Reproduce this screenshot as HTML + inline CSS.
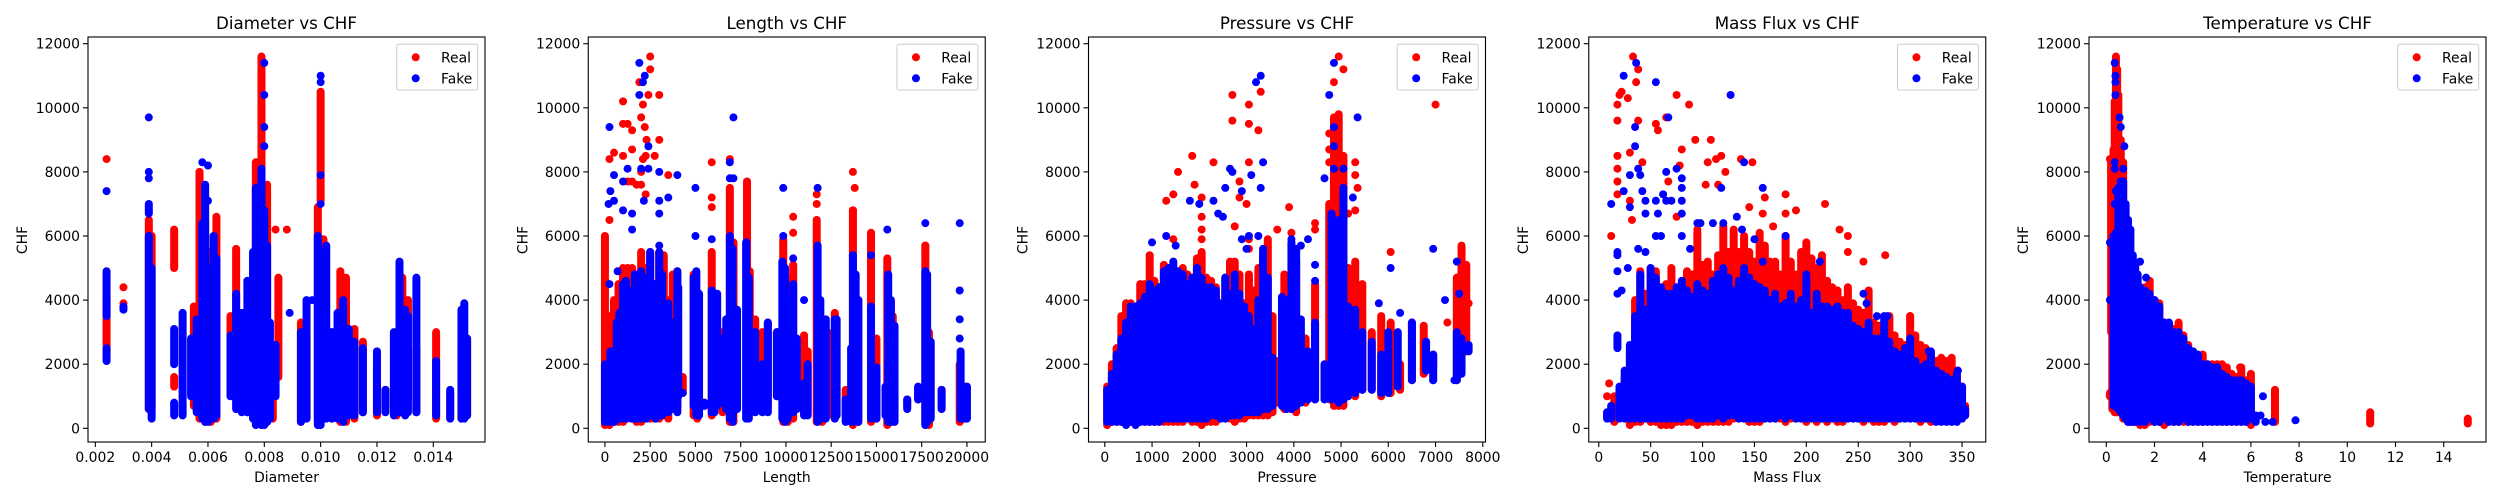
<!DOCTYPE html>
<html><head><meta charset="utf-8"><style>
html,body{margin:0;padding:0;background:#fff}
svg{display:block;font-family:"DejaVu Sans","Liberation Sans",sans-serif}
</style></head><body>
<svg id="chart" width="2500" height="500" viewBox="0 0 2500 500" xmlns="http://www.w3.org/2000/svg"></svg>
<script>
// ---------- data ----------
const yTicks = [0,2000,4000,6000,8000,10000,12000];
const panelTitles = ["Diameter vs CHF","Length vs CHF","Pressure vs CHF","Mass Flux vs CHF","Temperature vs CHF"];
const panelXLabels = ["Diameter","Length","Pressure","Mass Flux","Temperature"];
const diamTicks = [0.002,0.004,0.006,0.008,0.010,0.012,0.014];
const diamTickLabels = ["0.002","0.004","0.006","0.008","0.010","0.012","0.014"];
const lenTicks = [0,2500,5000,7500,10000,12500,15000,17500,20000];
const presTicks = [0,1000,2000,3000,4000,5000,6000,7000,8000];
const mfTicks = [0,50,100,150,200,250,300,350];
const tempTicks = [0,2,4,6,8,10,12,14];

const diamRealBands = [[0.0024,2400,4000],[0.0039,600,6500],[0.0040,600,6000],[0.0048,1300,1600],[0.0048,5000,6200],[0.0055,700,3800],[0.0057,300,8000],[0.0059,200,6500],[0.0061,200,5500],[0.0063,300,6600],[0.0068,1400,3500],[0.0070,1000,5600],[0.0074,500,3700],[0.0077,200,8300],[0.0079,100,11600],[0.0081,200,7600],[0.0083,300,2500],[0.0085,1600,4700],[0.0093,200,3300],[0.0095,300,3000],[0.0099,300,6900],[0.0100,7100,10500],[0.0101,300,5900],[0.0104,300,3000],[0.0107,200,4900],[0.0109,200,4700],[0.0112,300,3100],[0.0115,500,2700],[0.0120,400,1900],[0.0123,700,1200],[0.0127,400,2600],[0.0129,1000,4700],[0.0131,900,4000],[0.0134,500,2500],[0.0141,300,3000],[0.0146,300,1100],[0.0150,300,2700],[0.0152,400,2800]];
const diamRealPts = [[0.0024,8400],[0.0030,4400],[0.0030,3900],[0.0084,6200],[0.0088,6200],[0.0085,4400],[0.0051,700]];
const diamFakeBands = [[0.0024,2100,2500],[0.0024,3500,4900],[0.0030,3700,3800],[0.0039,600,6000],[0.0040,300,5000],[0.0039,6700,7000],[0.0048,400,800],[0.0048,2000,3100],[0.0051,400,3600],[0.0054,1000,2800],[0.0056,500,3400],[0.0058,300,6400],[0.0059,200,7600],[0.0060,200,5000],[0.0062,300,6000],[0.0063,400,5300],[0.0068,1000,2900],[0.0070,600,4200],[0.0072,500,3600],[0.0074,500,4600],[0.0076,300,5500],[0.0077,100,7500],[0.0079,100,8100],[0.0080,100,6800],[0.0081,200,5700],[0.0082,300,3300],[0.0084,1000,2600],[0.0093,200,3000],[0.0094,300,3000],[0.0095,300,4000],[0.0099,100,6000],[0.0100,100,5500],[0.0102,300,5700],[0.0104,300,3000],[0.0106,300,3600],[0.0108,200,4000],[0.0110,400,3100],[0.0112,400,2700],[0.0115,500,2500],[0.0120,500,2400],[0.0123,500,1200],[0.0126,400,3000],[0.0128,500,5200],[0.0130,400,3700],[0.0131,500,3500],[0.0134,500,4700],[0.0141,400,2100],[0.0146,300,1200],[0.0150,300,3700],[0.0151,300,3900],[0.0152,400,2800]];
const diamFakePts = [[0.0024,7400],[0.0039,8000],[0.0039,7800],[0.0039,9700],[0.0058,8300],[0.0060,8200],[0.0060,7100],[0.0080,8800],[0.0080,9400],[0.0080,10400],[0.0080,11400],[0.0089,3600],[0.0100,7000],[0.0100,7900],[0.0100,10800],[0.0100,11000],[0.0074,4600],[0.0097,4000],[0.0127,1100]];

const lenRealBands = [[0,100,6000],[250,100,3500],[500,200,4000],[750,200,4500],[1000,200,5000],[1250,300,5000],[1500,300,5000],[1750,200,4800],[2000,200,5500],[2250,300,5000],[2500,300,5500],[2750,300,4500],[3000,300,5500],[3250,400,5400],[3500,300,4000],[3750,700,4800],[4000,700,4900],[4300,1100,1600],[4900,400,4800],[5100,300,4000],[5900,400,5500],[6000,500,3000],[6500,500,3000],[6900,200,7500],[7100,200,5800],[7850,300,7700],[8000,500,4900],[8300,600,3400],[8700,1000,3000],[9000,700,3300],[9500,1000,3000],[9850,200,5900],[10100,200,4700],[10400,300,5100],[11000,500,2900],[11200,500,2400],[11700,200,6500],[12000,200,3200],[12300,400,3000],[12700,300,3600],[13300,400,1200],[13700,100,6800],[14000,200,4000],[14700,200,6100],[15000,300,2800],[15600,100,5300],[15900,200,3500],[16700,700,900],[17300,900,1200],[17700,100,5700],[17900,100,3000],[18600,700,1200],[19600,200,2000],[19900,300,1300]];
const lenRealPts = [[250,8400],[250,6500],[500,8600],[1000,10200],[1000,9500],[1250,9500],[1900,10800],[2100,10100],[2400,10400],[2300,9000],[3000,9000],[2250,7300],[5900,7200],[5900,6900],[10400,6100],[13800,7500],[17700,5400],[17700,5700],[13700,6800],[1500,7700],[7850,7300],[1250,7700],[1500,9300],[1750,7600],[2000,9700],[2000,8000],[2100,8400],[2250,8500],[2500,11600],[2500,11200],[2750,8500],[3000,10400],[3500,7900],[1000,8500],[1500,8700],[2200,9400],[2000,7600],[5900,8300],[6900,8400],[10400,6600],[11700,7000],[11700,7300],[13700,8000]];
const lenFakeBands = [[0,200,2000],[150,200,1300],[300,200,2400],[500,200,1500],[650,300,3300],[800,300,3600],[1000,300,4500],[1150,300,4600],[1300,400,4300],[1500,300,4100],[1650,300,4800],[1800,300,3900],[2000,300,4900],[2150,400,4700],[2300,300,4000],[2500,400,5500],[2650,400,3800],[2800,300,4500],[3000,400,5500],[3150,400,4800],[3300,500,3600],[3500,500,3900],[3700,600,3300],[4000,500,4900],[4050,1000,4400],[4300,1100,1100],[4900,700,4700],[5050,400,4900],[5200,400,4200],[5500,700,800],[5900,500,4300],[6050,500,3000],[6200,700,4200],[6500,800,2800],[6700,600,3400],[6900,300,6000],[7050,200,5600],[7300,600,3700],[7800,300,5800],[7950,300,4700],[8300,500,3000],[8700,500,2000],[9000,500,3300],[9500,1000,3000],[9800,300,5200],[9950,200,5000],[10100,300,4000],[10400,500,4500],[10600,600,2800],[11000,400,1400],[11200,400,2000],[11750,200,5700],[11900,300,4000],[12200,300,3400],[12700,300,3400],[12800,400,3400],[13300,200,900],[13600,200,2500],[13700,200,5400],[13850,300,4800],[14000,200,4000],[14700,300,3800],[15000,300,1900],[15500,400,1300],[15650,200,4800],[15800,200,4000],[16000,200,3200],[16700,600,900],[17300,900,1300],[17700,100,4900],[17800,200,4800],[18000,300,2700],[18600,600,1200],[19650,300,2400],[19800,300,1300],[20000,300,1300]];
const lenFakePts = [[250,9400],[200,7000],[300,7400],[500,7100],[500,7900],[1000,6800],[1000,7700],[1250,8100],[1500,6700],[1500,6200],[1900,11400],[2100,10800],[2200,11000],[1900,10400],[2400,8800],[2000,8100],[2400,8100],[3000,8000],[3000,6700],[3000,7100],[3500,7200],[4000,7900],[2150,7100],[3000,5700],[700,4900],[250,4500],[7100,9700],[6900,8300],[6900,7800],[7100,7800],[5000,7500],[5000,6000],[5900,5900],[9850,7500],[9850,6000],[11750,7500],[15600,6200],[17700,6400],[19600,6400],[19600,4300],[19600,3400],[19600,2800],[11000,4000],[10400,5300],[14700,5400],[13700,5400]];

const presRealBands = [[50,100,1300],[150,200,2000],[250,200,2500],[350,200,3500],[450,200,3900],[550,200,3900],[650,200,3800],[750,200,4500],[850,200,4500],[950,200,5400],[1050,200,4600],[1150,200,4400],[1250,200,5100],[1350,200,4800],[1450,200,5000],[1550,200,4800],[1650,200,5000],[1750,300,4800],[1850,200,4500],[1950,200,5300],[2050,100,5500],[2150,200,4700],[2250,200,4600],[2350,200,4400],[2450,300,3500],[2550,300,4700],[2650,300,5200],[2750,200,5200],[2850,300,4800],[2950,300,3900],[3050,400,4800],[3150,400,4300],[3250,400,5000],[3350,400,5400],[3450,400,5900],[3550,500,3500],[3650,800,2100],[3800,600,4800],[3950,600,4800],[4050,500,5200],[4250,800,2800],[4450,900,4500],[4750,900,7000],[4850,700,9700],[4950,700,9800],[5050,700,8500],[5150,1000,5000],[5300,1000,5200],[5450,1200,4500],[5650,1200,3000],[5850,1000,3500],[6050,1100,3300],[6250,1200,2000],[6500,1500,3300],[6750,1700,3200],[6950,1900,2300],[7450,1500,4700],[7550,3000,5700],[7650,2400,5100]];
const presRealPts = [[1300,7100],[1450,7300],[1550,8000],[1850,8500],[1900,7600],[2050,7200],[2300,8300],[2700,10400],[2700,9600],[3050,10100],[3050,9500],[3050,8300],[3250,9300],[3300,10500],[2850,7700],[2850,7200],[3000,7000],[3900,6900],[3650,6200],[5050,11200],[4850,10800],[4750,9200],[7000,10100],[6050,5500],[7250,3300],[7700,3900],[4750,8300],[4750,8700],[4950,11600],[5300,7900],[5300,8300],[5350,7500],[5300,6800],[5150,6700],[3950,6100],[2050,5900],[2050,6200],[2050,6600],[2750,6300],[1450,5900],[3050,5600],[3050,5900],[4450,6200],[4450,6400]];
const presFakeBands = [[50,200,1200],[150,200,1700],[250,200,2300],[350,200,2800],[450,100,3300],[550,200,3800],[650,100,3800],[750,200,3900],[850,200,4100],[950,200,4500],[1050,200,4300],[1150,200,4400],[1250,300,4900],[1350,300,5000],[1450,300,5200],[1550,300,4900],[1650,300,4800],[1750,300,4500],[1850,300,4700],[1950,300,5000],[2050,300,4700],[2150,300,4400],[2250,400,4400],[2350,400,4300],[2450,300,3900],[2550,300,4700],[2650,400,4200],[2750,400,4800],[2850,400,4200],[2950,500,3800],[3050,500,3500],[3150,500,3100],[3250,500,4000],[3350,600,5600],[3450,600,4700],[3550,700,2200],[3750,700,4100],[3850,600,4000],[3950,600,5800],[4050,700,5600],[4150,800,3400],[4300,900,2400],[4450,900,3300],[4650,900,2000],[4800,900,6700],[4950,800,6500],[5050,900,7500],[5150,1000,3800],[5300,1100,3700],[5450,1200,3000],[5650,1200,2700],[5850,1100,2300],[6000,1100,3000],[6200,1300,3000],[6500,1500,3300],[6800,1800,2700],[6950,1500,2300],[7450,1500,3000],[7550,1700,2800],[7700,2400,2600]];
const presFakePts = [[1000,5800],[1300,6000],[1500,5700],[1800,7100],[2000,7000],[2300,7100],[2400,6700],[2500,6600],[2550,7500],[2650,8100],[2700,8000],[2900,7400],[2900,5900],[3000,5600],[3050,6000],[3100,7900],[3250,6000],[3300,7500],[3350,8300],[3200,10800],[3300,11000],[4850,11400],[4750,10400],[4850,9400],[4850,8800],[4850,8100],[5050,8100],[4650,7800],[5250,7200],[5350,9700],[4150,5700],[4300,5900],[3950,5900],[4450,5100],[4450,4600],[6950,5600],[7450,5200],[7500,4200],[7200,4000],[5800,3900],[6250,3600],[6050,5000],[7400,1500],[6950,1500]];

const mfRealBands = [[15,200,1000],[25,300,1600],[30,100,2400],[35,200,4000],[40,200,4900],[45,300,4200],[50,200,5000],[55,200,4900],[60,100,4000],[65,100,4500],[70,100,5000],[75,200,4300],[80,200,4500],[85,200,4900],[90,200,4800],[95,100,6100],[100,200,5100],[105,200,5200],[110,200,4800],[115,200,5400],[120,200,6300],[125,200,5500],[130,300,6200],[135,300,5500],[140,300,6000],[145,200,5500],[150,200,5200],[155,200,6100],[160,300,5700],[165,300,5200],[170,300,5200],[175,300,4800],[180,200,6000],[185,300,5200],[190,300,4800],[195,300,5500],[200,200,5800],[205,300,5300],[210,200,5000],[215,300,5400],[220,200,4600],[225,300,4400],[230,200,4300],[235,200,4000],[240,300,4400],[245,300,3900],[250,300,3700],[255,200,3600],[260,300,4300],[265,200,3300],[270,200,3200],[275,200,3100],[280,300,3500],[285,200,2900],[290,300,2700],[295,300,2600],[300,300,3500],[305,300,2900],[310,200,2600],[315,300,2500],[320,200,2300],[325,300,2100],[330,300,2200],[335,300,2100],[340,200,2200],[345,300,1800],[350,300,1300],[353,400,700]];
const mfRealPts = [[8,1000],[10,1400],[12,6000],[18,10100],[18,9600],[18,8500],[18,8100],[18,7700],[18,7300],[20,10400],[22,10500],[28,10300],[30,8600],[33,11600],[36,10800],[38,11200],[38,9600],[30,7100],[32,6500],[42,8300],[55,9500],[57,9300],[65,9700],[75,10400],[87,10100],[80,8700],[78,8200],[93,9000],[108,9000],[105,8300],[113,8400],[118,8500],[122,8000],[115,7600],[103,7600],[137,8400],[148,8300],[145,6900],[160,7200],[158,6700],[168,6300],[180,7300],[180,6700],[190,6800],[218,7000],[232,6200],[240,6000],[240,5500],[276,5400],[255,5200],[300,3500],[75,6600],[95,6200],[67,7700]];
const mfFakeBands = [[8,300,500],[12,300,700],[18,2500,2900],[20,300,1300],[25,300,1800],[30,300,2600],[35,300,3500],[40,300,4800],[45,300,3700],[50,300,5000],[55,300,4700],[60,300,4400],[65,300,4200],[70,300,4200],[75,300,4400],[80,300,4600],[85,400,4300],[90,400,4100],[95,300,4500],[100,300,4300],[105,300,4200],[110,300,4600],[115,400,4800],[120,300,5000],[125,400,4700],[130,400,4300],[135,300,4600],[140,300,5000],[145,300,4700],[150,300,4500],[155,300,4400],[160,300,4300],[165,300,4000],[170,300,4200],[175,400,3800],[180,300,3900],[185,400,4200],[190,300,3800],[195,300,4000],[200,300,4700],[205,300,3600],[210,300,4200],[215,300,3800],[220,300,3800],[225,300,3700],[230,300,3800],[235,300,3600],[240,300,3600],[245,300,3200],[250,300,3100],[255,300,3000],[260,300,3300],[265,300,2800],[270,300,2800],[275,300,3500],[280,300,2700],[285,300,2400],[290,300,2300],[295,300,2500],[300,300,2800],[305,300,2100],[310,300,1900],[315,300,2000],[320,300,2400],[325,200,1800],[330,200,1700],[335,200,1600],[340,200,1500],[345,200,1700],[350,300,1300],[353,400,600]];
const mfFakePts = [[12,7000],[18,5500],[18,5400],[18,4900],[18,4200],[22,4300],[28,5000],[24,11000],[24,7400],[30,7900],[30,6900],[35,9400],[35,8800],[36,11400],[38,8100],[40,7900],[42,7400],[45,7100],[45,6700],[38,5600],[45,5500],[55,10800],[55,7100],[57,6700],[55,6000],[60,6000],[62,7300],[65,8000],[65,7100],[67,9700],[70,7100],[75,8100],[80,7800],[80,7500],[80,7100],[80,6700],[80,6000],[88,5600],[95,6400],[98,6400],[110,6400],[118,7500],[120,6400],[127,10400],[133,6600],[138,6200],[140,8300],[150,5900],[158,7500],[158,5200],[180,6000],[200,4800],[213,5200],[255,4200],[258,3900],[268,3500],[278,3500],[318,2400],[346,1800]];

const tempRealBands = [[0.15,1000,1100],[0.2,3000,8400],[0.25,600,7500],[0.3,600,8700],[0.35,500,10200],[0.4,500,11600],[0.45,500,11200],[0.5,500,10400],[0.6,500,9000],[0.7,300,8300],[0.8,300,6800],[0.9,200,6500],[1.0,200,5500],[1.1,200,5000],[1.2,200,4700],[1.3,200,4500],[1.4,100,4400],[1.6,100,4400],[1.8,200,4600],[2.0,200,4000],[2.2,200,3900],[2.4,100,3300],[2.6,200,3000],[2.8,200,3100],[3.0,200,3300],[3.2,200,2900],[3.4,200,2600],[3.6,200,2400],[3.8,200,2300],[4.0,200,2300],[4.2,200,2000],[4.4,200,2000],[4.6,200,2000],[4.8,200,2000],[5.0,200,1900],[5.2,200,1700],[5.4,200,1600],[5.6,200,1900],[5.8,200,1500],[6.0,100,1700],[7.0,200,1200],[10.95,150,500],[15.0,150,300]];
const tempRealPts = [[0.15,8400],[2.5,200],[5.55,1900]];
const tempFakeBands = [[0.3,700,6000],[0.4,800,6100],[0.5,600,7500],[0.6,500,7700],[0.7,400,7700],[0.8,300,7000],[0.9,200,6500],[1.0,200,6200],[1.1,200,5400],[1.2,200,5100],[1.3,300,4800],[1.4,200,4400],[1.5,300,4300],[1.6,200,4300],[1.8,300,4200],[2.0,200,4000],[2.2,200,3800],[2.4,300,3300],[2.6,200,3300],[2.8,200,3000],[3.0,200,3000],[3.2,300,2800],[3.4,200,2500],[3.6,200,2400],[3.8,200,2300],[4.0,200,2000],[4.2,200,2000],[4.4,200,1900],[4.6,200,1900],[4.8,200,1700],[5.0,200,1600],[5.2,200,1500],[5.4,200,1500],[5.6,200,1500],[5.8,200,1400],[6.0,300,1300],[6.2,200,400]];
const tempFakePts = [[0.35,11400],[0.38,11000],[0.38,10800],[0.38,10400],[0.55,9700],[0.6,9400],[0.75,8800],[0.35,8300],[0.35,8100],[0.7,8100],[0.4,7400],[0.35,7000],[0.15,5800],[0.15,4000],[0.35,1000],[6.5,1000],[6.6,200],[6.9,200],[7.85,250],[1.65,4700],[1.4,5200],[6.4,400]];

// ---------- rendering ----------
const NS = "http://www.w3.org/2000/svg";
const svg = document.getElementById("chart");
function mk(tag, attrs, parent){
  const e = document.createElementNS(NS, tag);
  for (const k in attrs) e.setAttribute(k, attrs[k]);
  parent.appendChild(e); return e;
}
const AX_L = 88, AX_W = 397, AX_T = 37, AX_B = 442;
function yScale(v){ return 428.3 - v * (384.6 / 12000); }

const panels = [
  {key:"diameter", ticks:diamTicks, labels:diamTickLabels, a:[0.002,95.3], b:[0.014,433.3], rb:diamRealBands, rp:diamRealPts, fb:diamFakeBands, fp:diamFakePts},
  {key:"length", ticks:lenTicks, labels:lenTicks.map(String), a:[0,104.7], b:[20000,466.7], rb:lenRealBands, rp:lenRealPts, fb:lenFakeBands, fp:lenFakePts},
  {key:"pressure", ticks:presTicks, labels:presTicks.map(String), a:[0,104.3], b:[8000,482.3], rb:presRealBands, rp:presRealPts, fb:presFakeBands, fp:presFakePts},
  {key:"mass-flux", ticks:mfTicks, labels:mfTicks.map(String), a:[0,98], b:[350,461.3], rb:mfRealBands, rp:mfRealPts, fb:mfFakeBands, fp:mfFakePts},
  {key:"temperature", ticks:tempTicks, labels:tempTicks.map(String), a:[0,105.3], b:[14,442.7], rb:tempRealBands, rp:tempRealPts, fb:tempFakeBands, fp:tempFakePts}
];

panels.forEach((p, i) => {
  const ox = i * 500.25;
  const xScale = v => ox + p.a[1] + (v - p.a[0]) * (p.b[1] - p.a[1]) / (p.b[0] - p.a[0]);
  const g = mk("g", {}, svg);
  
  

  const title = mk("text", {x: ox + AX_L + AX_W/2, y: 29, "text-anchor":"middle", "font-size":"16.7", fill:"#000"}, g);
  title.textContent = panelTitles[i];
  
  

  const series = [["real", "#ff0000", p.rb, p.rp], ["fake", "#0000ff", p.fb, p.fp]];
  series.forEach(([nm, col, bands, pts]) => {
    const sg = mk("g", {stroke: col, "stroke-width": 8, "stroke-linecap":"round", fill: col}, g);
    
    
    bands.forEach(b => {
      const x = xScale(b[0]);
      const ln = mk("line", {x1: x, x2: x, y1: yScale(b[1]), y2: yScale(b[2])}, sg);
      
      
    });
    pts.forEach(pt => {
      const c = mk("circle", {cx: xScale(pt[0]), cy: yScale(pt[1]), r: 4, stroke: "none"}, sg);
      
      
    });
  });

  const frame = mk("rect", {x: ox + AX_L, y: AX_T, width: AX_W, height: AX_B - AX_T, fill: "none", stroke: "#000", "stroke-width": 1.1}, g);
  
  

  yTicks.forEach(t => {
    const y = yScale(t);
    const tk = mk("line", {x1: ox + AX_L - 5, x2: ox + AX_L, y1: y, y2: y, stroke: "#000", "stroke-width": 1.1}, g);
    
    
    const lb = mk("text", {x: ox + AX_L - 8, y: y + 5, "text-anchor":"end", "font-size":"13.9", fill:"#000"}, g);
    lb.textContent = String(t);
    
    
  });
  p.ticks.forEach((t, j) => {
    const x = xScale(t);
    const tk = mk("line", {x1: x, x2: x, y1: AX_B, y2: AX_B + 5, stroke: "#000", "stroke-width": 1.1}, g);
    
    
    const lb = mk("text", {x: x, y: 462, "text-anchor":"middle", "font-size":"13.9", fill:"#000"}, g);
    lb.textContent = p.labels[j];
    
    
  });

  const xl = mk("text", {x: ox + AX_L + AX_W/2, y: 482, "text-anchor":"middle", "font-size":"13.9", fill:"#000"}, g);
  xl.textContent = panelXLabels[i];
  
  
  const yl = mk("text", {x: 0, y: 0, "text-anchor":"middle", "font-size":"13.9", fill:"#000", transform: `translate(${ox + 27},240) rotate(-90)`}, g);
  yl.textContent = "CHF";
  
  

  const lg = mk("g", {}, g);
  
  
  mk("rect", {x: ox + 396.7, y: 44.3, width: 81, height: 45.7, rx: 2, fill: "#fff", "fill-opacity": 0.8, stroke: "#ccc", "stroke-width": 1}, lg);
  [["Real", "#ff0000", 57.3], ["Fake", "#0000ff", 78.3]].forEach(([name, col, y]) => {
    const ent = mk("g", {}, lg);
    
    
    mk("circle", {cx: ox + 415.7, cy: y, r: 4, fill: col}, ent);
    const t = mk("text", {x: ox + 441, y: y + 5, "font-size":"13.9", fill:"#000"}, ent);
    t.textContent = name;
  });
});
</script>
</body></html>
